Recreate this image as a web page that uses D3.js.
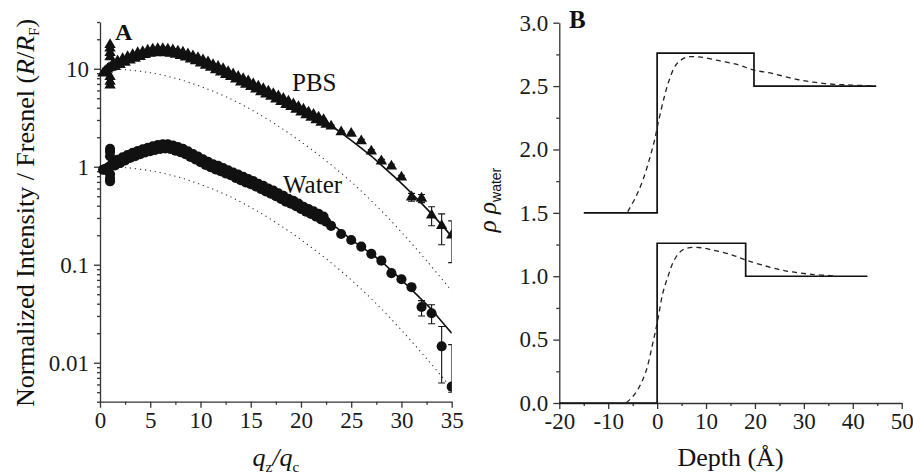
<!DOCTYPE html>
<html><head><meta charset="utf-8">
<script src="https://cdn.jsdelivr.net/npm/d3@7"></script>
<style>
html,body{margin:0;padding:0;background:#fff;}
svg{display:block;font-family:"Liberation Serif","Times New Roman",serif;}
.axis path,.axis line{stroke:#333;stroke-width:1.3;}
</style></head><body>
<svg id="chart" width="913" height="476"></svg>
<script>
// ---------- Panel A: reflectivity normalised by Fresnel ----------
// dense low-q region, PBS subphase: [qz/qc, R/RF]
const pbsDense = [
  [0.3,9.0],[0.45,9.3],[0.6,9.6],[0.75,9.9],[0.9,10.2],
  [1.0,17.6],[1.0,16.2],[1.0,14.6],[1.0,13.2],[1.0,8.3],[1.0,7.4],[1.0,6.8],[1.1,10.3],
  [1.25,11.1],[1.5,10.5],[1.75,12.0],[2.0,11.0],[2.25,12.6],[2.5,11.6],[2.75,13.2],[3.0,12.2],
  [3.25,13.9],[3.5,12.7],[3.75,14.5],[4.0,13.3],[4.25,14.9],[4.5,13.9],[4.75,15.4],[5.0,14.3],
  [5.25,15.8],[5.5,14.5],[5.75,16.0],[6.0,14.6],[6.25,16.0],[6.5,14.5],[6.75,15.8],[7.0,14.3],
  [7.25,15.5],[7.5,14.0],[7.75,15.1],[8.0,13.6],[8.25,14.7],[8.5,13.1],[8.75,14.1],[9.0,12.5],
  [9.25,13.5],[9.5,12.0],[9.75,12.9],[10.0,11.4],[10.25,12.3],[10.5,10.8],[10.75,11.7],[11.0,10.3],
  [11.25,11.0],[11.5,9.7],[11.75,10.5],[12.0,9.2],[12.25,10.0],[12.5,8.7],[12.75,9.3],[13.0,8.3],
  [13.25,8.8],[13.5,7.8],[13.75,8.3],[14.0,7.3],[14.25,7.9],[14.5,6.9],[14.75,7.5],[15.0,6.55],
  [15.25,7.0],[15.5,6.2],[15.75,6.6],[16.0,5.8],[16.25,6.25],[16.5,5.5],[16.75,5.9],[17.0,5.2],
  [17.25,5.55],[17.5,4.9],[17.75,5.25],[18.0,4.6],[18.25,4.95],[18.5,4.3],[18.75,4.65],[19.0,4.1],
  [19.25,4.35],[19.5,3.85],[19.75,4.1],[20.0,3.6],[20.25,3.85],[20.5,3.37],[20.75,3.6],[21.0,3.18],
  [21.25,3.4],[21.5,3.0],[21.75,3.2],[22.0,2.83],[22.25,3.02],[22.5,2.7]
];
// dense low-q region, pure water subphase
const waterDense = [
  [0.3,0.93],[0.45,0.94],[0.6,0.95],[0.75,0.97],[0.9,1.0],
  [1.0,1.52],[1.0,1.42],[1.0,1.28],[1.0,0.84],[1.0,0.76],[1.0,0.71],[1.1,1.02],
  [1.25,1.10],[1.5,1.03],[1.75,1.18],[2.0,1.09],[2.25,1.25],[2.5,1.16],[2.75,1.32],[3.0,1.23],
  [3.25,1.39],[3.5,1.28],[3.75,1.45],[4.0,1.34],[4.25,1.51],[4.5,1.40],[4.75,1.56],[5.0,1.44],
  [5.25,1.62],[5.5,1.48],[5.75,1.66],[6.0,1.52],[6.25,1.69],[6.5,1.54],[6.75,1.69],[7.0,1.52],
  [7.25,1.65],[7.5,1.46],[7.75,1.59],[8.0,1.41],[8.25,1.52],[8.5,1.34],[8.75,1.44],[9.0,1.26],
  [9.25,1.35],[9.5,1.19],[9.75,1.27],[10.0,1.11],[10.25,1.19],[10.5,1.045],[10.75,1.12],[11.0,0.99],
  [11.25,1.06],[11.5,0.94],[11.75,1.02],[12.0,0.90],[12.25,0.97],[12.5,0.855],[12.75,0.92],[13.0,0.82],
  [13.25,0.87],[13.5,0.77],[13.75,0.83],[14.0,0.73],[14.25,0.79],[14.5,0.69],[14.75,0.75],[15.0,0.665],
  [15.25,0.715],[15.5,0.63],[15.75,0.67],[16.0,0.595],[16.25,0.64],[16.5,0.56],[16.75,0.60],[17.0,0.53],
  [17.25,0.57],[17.5,0.50],[17.75,0.535],[18.0,0.47],[18.25,0.505],[18.5,0.44],[18.75,0.47],[19.0,0.42],
  [19.25,0.45],[19.5,0.395],[19.75,0.42],[20.0,0.37],[20.25,0.39],[20.5,0.347],[20.75,0.37],[21.0,0.33],
  [21.25,0.35],[21.5,0.31],[21.75,0.33],[22.0,0.29],[22.25,0.31],[22.5,0.275]
];
// high-q points with error bars
const qSparse     = [23,24,25,26,27,28,29,30,31,32,33,34,35];
const pbsSparse   = [2.59,2.26,2.18,1.83,1.44,1.14,1.01,0.78,0.49,0.475,0.32,0.25,0.20];
const pbsLow      = [2.52,2.19,2.11,1.76,1.38,1.09,0.96,0.74,0.445,0.43,0.25,0.16,0.105];
const pbsHigh     = [2.66,2.33,2.25,1.90,1.50,1.19,1.06,0.82,0.535,0.52,0.39,0.33,0.28];
const waterSparse = [0.249,0.206,0.179,0.153,0.129,0.110,0.082,0.071,0.059,0.037,0.032,0.0147,0.0057];
const waterLow    = [0.242,0.200,0.173,0.148,0.124,0.105,0.078,0.067,0.055,0.030,0.025,0.0062,0.0050];
const waterHigh   = [0.256,0.212,0.185,0.158,0.134,0.115,0.086,0.075,0.063,0.043,0.039,0.0234,0.0153];
// model fits (solid)
const pbsFit = [[1,10.5],[2,11.6],[4,14.0],[6,15.2],[8,14.3],[10,12.0],[12,9.7],[14,7.7],[16,6.1],[18,4.85],
  [20,3.8],[22,3.06],[23,2.62],[24,2.22],[25,1.86],[26,1.55],[27,1.28],[28,1.04],[29,0.84],[30,0.676],
  [31,0.537],[32,0.423],[33,0.33],[34,0.255],[35,0.194]];
const waterFit = [[1,1.02],[2,1.15],[4,1.41],[6,1.6],[8,1.48],[10,1.17],[12,0.95],[14,0.77],[16,0.625],[18,0.495],
  [20,0.39],[22,0.30],[23,0.263],[24,0.219],[25,0.18],[26,0.153],[27,0.129],[28,0.108],[29,0.087],[30,0.07],
  [31,0.0556],[32,0.0442],[33,0.0348],[34,0.0263],[35,0.02]];
// single-interface (roughness only) references (dotted)
const pbsRough = [[1,10.0],[2.5,9.8],[5,9.1],[7.5,8.0],[10,6.6],[12.5,5.2],[15,3.85],[17.5,2.7],[20,1.8],
  [22.5,1.15],[25,0.70],[27.5,0.40],[30,0.215],[32.5,0.11],[35,0.054]];
const waterRough = [[1,1.0],[2.5,0.98],[5,0.91],[7.5,0.80],[10,0.66],[12.5,0.52],[15,0.385],[17.5,0.27],[20,0.18],
  [22.5,0.115],[25,0.070],[27.5,0.040],[30,0.0215],[32.5,0.011],[35,0.0055]];
const yTicksA = [0.01,0.1,1,10];
const yTickLabelsA = ["0.01","0.1","1","10"];
const xTicksA = [0,5,10,15,20,25,30,35];

// ---------- Panel B: electron density profiles ----------
// box model (step) profiles [depth, rho/rho_water]
const pbsBox   = [[-15,1.5],[0,2.76],[19.8,2.5],[44.8,2.5]];
const waterBox = [[-20,0],[0,1.26],[18.1,1.0],[43.0,1.0]];
// smeared profiles (dashed)
const pbsSmooth = [[-6.0,1.51],[-4.3,1.63],[-2.9,1.76],[-1.6,1.92],[-0.55,2.07],[0.33,2.23],[1.5,2.42],[2.5,2.55],
  [3.9,2.67],[5.9,2.726],[8.6,2.73],[12.7,2.70],[16.7,2.666],[19.8,2.626],[23.5,2.60],[28.9,2.55],[34.3,2.52],
  [39.8,2.508],[44.5,2.502]];
const waterSmooth = [[-6.3,0.002],[-5.0,0.05],[-3.6,0.13],[-2.2,0.26],[-0.9,0.47],[0.13,0.655],[1.15,0.865],
  [2.2,0.996],[3.5,1.128],[5.2,1.207],[7.9,1.228],[11.3,1.207],[15.4,1.167],[18.1,1.128],[21.5,1.088],
  [26.2,1.043],[31.6,1.015],[36.7,1.002]];
const yTicksB = [0,0.5,1,1.5,2,2.5,3];
const xTicksB = [-20,-10,0,10,20,30,40,50];

const svg = d3.select("#chart");
const ink = "#111";
const serif = "'Liberation Serif','Times New Roman',serif";

function styleTicks(g){
  g.selectAll("text").attr("font-family",serif).style("font-family",serif)
    .attr("font-size",23).style("font-size","23px").attr("fill","#1a1a1a");
}

// ===== Panel A =====
const xA = d3.scaleLinear().domain([0,35]).range([100,451.7]);
const yA = d3.scaleLog().domain([0.004,30]).range([401.7,22]);

svg.append("defs").append("clipPath").attr("id","clipA")
  .append("rect").attr("x",xA(0)-6).attr("y",yA(30)).attr("width",xA(35)-xA(0)+6).attr("height",yA(0.004)-yA(30));

const minorA = [];
[0.001,0.01,0.1,1,10].forEach(dec => { for (let k=2;k<=9;k++){ const v=dec*k; if(v>=0.004 && v<=30) minorA.push(v);} });

const gyA = svg.append("g").attr("class","axis").attr("transform",`translate(${xA(0)},0)`);
gyA.call(d3.axisLeft(yA).tickValues(minorA).tickSize(3).tickFormat("").tickSizeOuter(0));
gyA.append("g").call(d3.axisLeft(yA).tickValues(yTicksA).tickSize(6).tickPadding(5)
  .tickFormat((d,i)=>yTickLabelsA[i]).tickSizeOuter(0)).select(".domain").remove();
styleTicks(gyA);

const gxA = svg.append("g").attr("class","axis").attr("transform",`translate(0,${yA(0.004)})`);
gxA.call(d3.axisBottom(xA).tickValues(d3.range(2.5,35,5)).tickSize(3).tickFormat("").tickSizeOuter(0));
gxA.append("g").call(d3.axisBottom(xA).tickValues(xTicksA).tickSize(6).tickPadding(4)
  .tickFormat(d=>String(d)).tickSizeOuter(0)).select(".domain").remove();
styleTicks(gxA);

const plotA = svg.append("g").attr("clip-path","url(#clipA)");
const lineA = d3.line().x(d=>xA(d[0])).y(d=>yA(d[1])).curve(d3.curveCatmullRom.alpha(0.5));

[pbsRough, waterRough].forEach(s => plotA.append("path").attr("d", lineA(s))
  .attr("fill","none").attr("stroke","#333").attr("stroke-width",1.1).attr("stroke-dasharray","1.2,3.8"));
[pbsFit, waterFit].forEach(s => plotA.append("path").attr("d", lineA(s))
  .attr("fill","none").attr("stroke",ink).attr("stroke-width",1.6));

const tri = d3.symbol(d3.symbolTriangle, 56);
const dot = d3.symbol(d3.symbolCircle, 80);

const pbsHi = qSparse.map((q,i)=>[q,pbsSparse[i],pbsLow[i],pbsHigh[i]]);
const watHi = qSparse.map((q,i)=>[q,waterSparse[i],waterLow[i],waterHigh[i]]);

function errorBars(data){
  const g = plotA.append("g").attr("stroke",ink).attr("stroke-width",1.1);
  data.forEach(d=>{
    const x=xA(d[0]);
    g.append("line").attr("x1",x).attr("x2",x).attr("y1",yA(d[2])).attr("y2",yA(d[3]));
    [d[2],d[3]].forEach(v=>g.append("line").attr("x1",x-3.5).attr("x2",x+3.5).attr("y1",yA(v)).attr("y2",yA(v)));
  });
}
errorBars(pbsHi); errorBars(watHi);

plotA.append("g").selectAll("path").data(pbsDense.concat(pbsHi)).join("path")
  .attr("d",tri).attr("fill",ink).attr("transform",d=>`translate(${xA(d[0])},${yA(d[1])})`);
plotA.append("g").selectAll("path").data(waterDense.concat(watHi)).join("path")
  .attr("d",dot).attr("fill",ink).attr("transform",d=>`translate(${xA(d[0])},${yA(d[1])})`);

svg.append("text").attr("x",115).attr("y",40).attr("font-weight","bold").attr("font-size",24).attr("fill",ink).text("A");
svg.append("text").attr("x",292).attr("y",91).attr("font-size",25).attr("fill",ink).text("PBS");
svg.append("text").attr("x",283).attr("y",193).attr("font-size",25).attr("fill",ink).text("Water");

const ylabA = svg.append("text").attr("transform","translate(34,213) rotate(-90)")
  .attr("text-anchor","middle").attr("font-size",26).attr("fill",ink);
ylabA.append("tspan").text("Normalized Intensity / Fresnel (");
ylabA.append("tspan").attr("font-style","italic").text("R");
ylabA.append("tspan").text("/");
ylabA.append("tspan").attr("font-style","italic").text("R");
ylabA.append("tspan").attr("font-size",15).attr("dy",5).text("F");
ylabA.append("tspan").attr("dy",-5).text(")");

const xlabA = svg.append("text").attr("x",(xA(0)+xA(35))/2).attr("y",466)
  .attr("text-anchor","middle").attr("font-size",26).attr("fill",ink);
xlabA.append("tspan").attr("font-style","italic").text("q");
xlabA.append("tspan").attr("font-size",15).attr("dy",6).text("z");
xlabA.append("tspan").attr("dy",-6).attr("font-style","italic").text("/q");
xlabA.append("tspan").attr("font-size",15).attr("dy",6).text("c");

// ===== Panel B =====
const xB = d3.scaleLinear().domain([-20,50]).range([559.3,901.7]);
const yB = d3.scaleLinear().domain([0,3]).range([403,22.7]);

const gyB = svg.append("g").attr("class","axis").attr("transform",`translate(${xB(-20)},0)`);
gyB.call(d3.axisLeft(yB).tickValues(d3.range(0.25,3,0.5)).tickSize(3).tickFormat("").tickSizeOuter(0));
gyB.append("g").call(d3.axisLeft(yB).tickValues(yTicksB).tickSize(6).tickPadding(5)
  .tickFormat(d3.format(".1f")).tickSizeOuter(0)).select(".domain").remove();
styleTicks(gyB);

const gxB = svg.append("g").attr("class","axis").attr("transform",`translate(0,${yB(0)})`);
gxB.call(d3.axisBottom(xB).tickValues(d3.range(-15,50,10)).tickSize(3).tickFormat("").tickSizeOuter(0));
gxB.append("g").call(d3.axisBottom(xB).tickValues(xTicksB).tickSize(6).tickPadding(4)
  .tickFormat(d=>String(d)).tickSizeOuter(0)).select(".domain").remove();
styleTicks(gxB);

const stepB = d3.line().x(d=>xB(d[0])).y(d=>yB(d[1])).curve(d3.curveStepAfter);
const smoothB = d3.line().x(d=>xB(d[0])).y(d=>yB(d[1])).curve(d3.curveCatmullRom.alpha(0.5));
[pbsBox, waterBox].forEach(s => svg.append("path").attr("d", stepB(s))
  .attr("fill","none").attr("stroke",ink).attr("stroke-width",1.7));
[pbsSmooth, waterSmooth].forEach(s => svg.append("path").attr("d", smoothB(s))
  .attr("fill","none").attr("stroke","#222").attr("stroke-width",1.3).attr("stroke-dasharray","5,4"));

svg.append("text").attr("x",569).attr("y",28).attr("font-weight","bold").attr("font-size",25).attr("fill",ink).text("B");

const ylabB = svg.append("text").attr("transform","translate(496,200) rotate(-90)")
  .attr("text-anchor","middle").attr("font-size",25).attr("fill",ink);
ylabB.append("tspan").attr("font-style","italic").text("ρ ρ");
ylabB.append("tspan").attr("font-family","'Liberation Sans',Arial,sans-serif").attr("font-size",14).attr("dy",5).text("water");

svg.append("text").attr("x",(xB(-20)+xB(50))/2).attr("y",466).attr("text-anchor","middle")
  .attr("font-size",26).attr("fill",ink).text("Depth (Å)");
</script></body></html>
